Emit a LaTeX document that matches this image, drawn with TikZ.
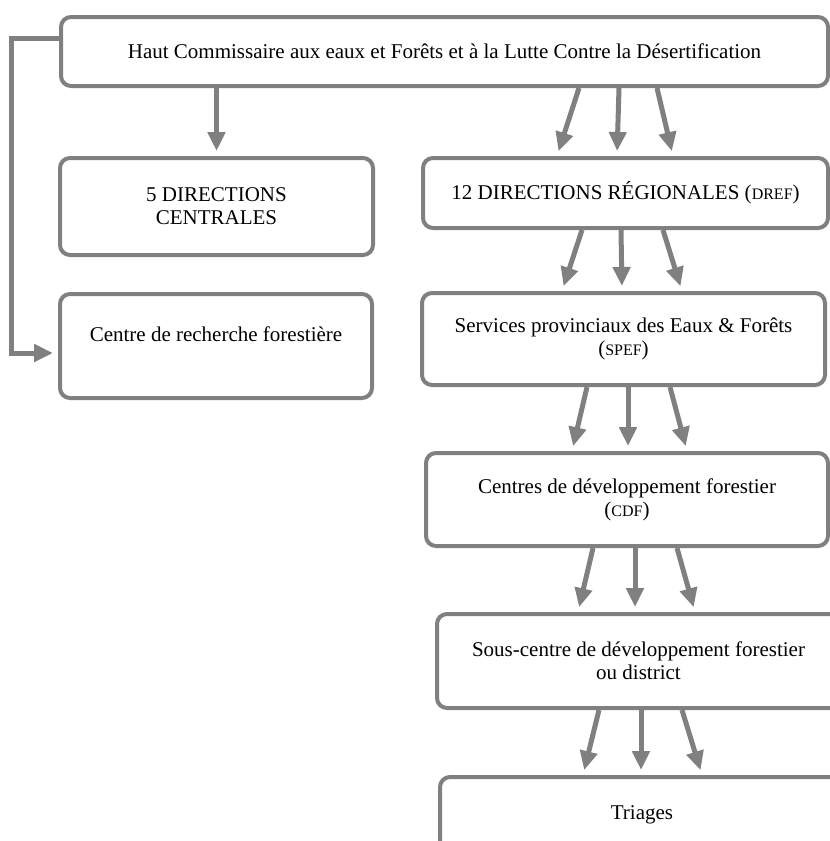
\documentclass[tikz,border=0pt]{standalone}
\usepackage{fontspec}
\setmainfont{Liberation Serif}
\usetikzlibrary{arrows.meta}
\definecolor{gris}{RGB}{128,128,128}
\newcommand{\sigle}[1]{({\fontsize{16}{18}\selectfont #1})}
\newcommand{\fleches}[8]{
	\draw [fleche]([xshift=#3pt]#1.south) -- ([xshift=#6pt]#2.north);
	\draw [fleche]([xshift=#4pt]#1.south) -- ([xshift=#7pt]#2.north);
	\draw [fleche]([xshift=#5pt]#1.south) -- ([xshift=#8pt]#2.north);
	}

\begin{document}
\begin{tikzpicture}[
      x=1pt, y=-1pt, %one unit = one pixel of the page
      boite/.style={draw=gris, line width=4pt, fill=white, rounded corners=10pt,
        align=center, font=\fontsize{21}{23}\selectfont, inner sep=0pt},
      fleche/.style={gris, line width=5pt, shorten >=5pt,
        -{Triangle[length=19pt,width=17pt]}}
    ]
    \useasboundingbox (0,0) rectangle (830,841);
    \clip (0,0) rectangle (830,841);
    % Haut commissariat
    \node[boite, minimum width=767pt, minimum height=69pt] (hcef) at (444.5,51.5)
      {Haut Commissaire aux eaux et Forêts et à la Lutte Contre la Désertification};
    % Left column
    \node[boite, minimum width=313pt, minimum height=97pt] (dc) at (216.5,206.5)
      {5 DIRECTIONS\\ CENTRALES};
    \node[boite, minimum width=312pt, minimum height=104pt] (crf) at (216,346)
      {Centre de recherche forestière\\ \mbox{}};
    % Right column
    \node[boite, minimum width=405pt, minimum height=70pt] (dref) at (625.5,193)
      {12 DIRECTIONS RÉGIONALES \sigle{DREF}};
    \node[boite, minimum width=403pt, minimum height=92pt] (spef) at (623.5,339)
      {Services provinciaux des Eaux \& Forêts\\ \sigle{SPEF}};
    \node[boite, minimum width=402pt, minimum height=93pt] (cdf) at (627,499.5)
      {Centres de développement forestier\\ \sigle{CDF}};
    \node[boite, minimum width=403pt, minimum height=94pt] (scdf) at (638.5,661)
      {Sous-centre de développement forestier\\ ou district};
    \node[boite, minimum width=404pt, minimum height=94pt] (tri) at (642,824)
      {Triages\\ \mbox{}};
    % Arrows
    \draw [fleche](hcef.south -| dc.north) -- (dc.north);
    \draw [fleche]([yshift=13.5pt]hcef.west) -- ++(-48,0) |- ([yshift=-7pt]crf.west);
    \fleches{hcef}{dref}{134.5}{174.5}{212.5}{-68.5}{-8.5}{47.5};
    \fleches{dref}{spef}{-43.5}{-4.5}{37.5}{-61.5}{-1.5}{58.5};
    \fleches{spef}{cdf}{-36.5}{4.5}{46.5}{-55}{1}{60};
    \fleches{cdf}{scdf}{-34}{8}{50}{-60.5}{-3.5}{56.5};
    \fleches{scdf}{tri}{-39.5}{2.5}{43.5}{-59}{-1}{60};
\end{tikzpicture}
\end{document}
